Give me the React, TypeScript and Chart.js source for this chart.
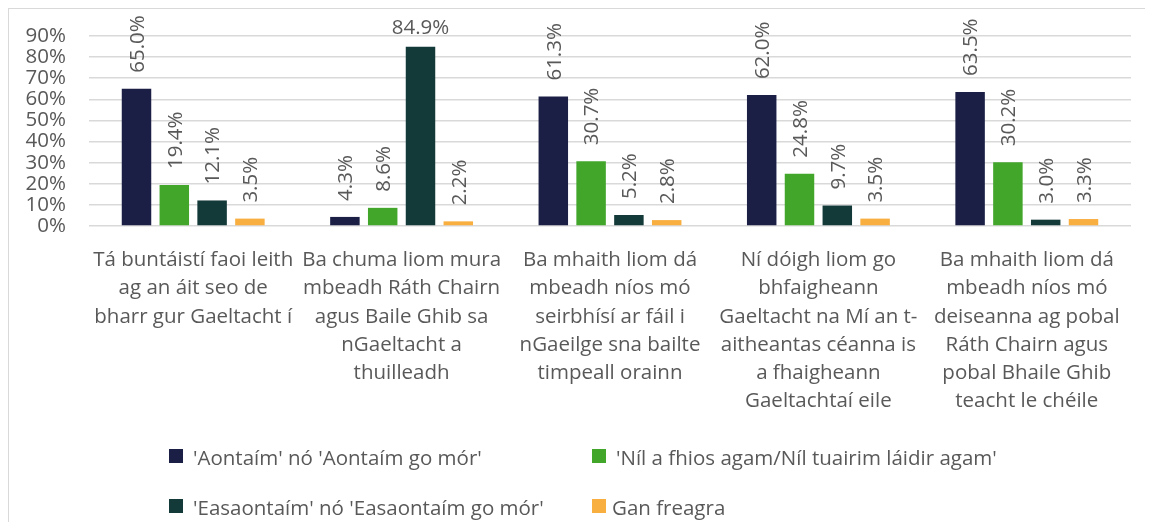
import React, { useEffect, useRef } from "react";
import { Chart, registerables } from "chart.js";

Chart.register(...registerables);

const CATEGORIES: string[][] = [
  ["Tá buntáistí faoi leith", "ag an áit seo de", "bharr gur Gaeltacht í"],
  ["Ba chuma liom mura", "mbeadh Ráth Chairn", "agus Baile Ghib sa", "nGaeltacht a", "thuilleadh"],
  ["Ba mhaith liom dá", "mbeadh níos mó", "seirbhísí ar fáil i", "nGaeilge sna bailte", "timpeall orainn"],
  ["Ní dóigh liom go", "bhfaigheann", "Gaeltacht na Mí an t-", "aitheantas céanna is", "a fhaigheann", "Gaeltachtaí eile"],
  ["Ba mhaith liom dá", "mbeadh níos mó", "deiseanna ag pobal", "Ráth Chairn agus", "pobal Bhaile Ghib", "teacht le chéile"],
];

const SERIES_LABELS = [
  "'Aontaím' nó 'Aontaím go mór'",
  "'Níl a fhios agam/Níl tuairim láidir agam'",
  "'Easaontaím' nó 'Easaontaím go mór'",
  "Gan freagra",
];

const AGREE = [65.0, 4.3, 61.3, 62.0, 63.5];
const DONT_KNOW = [19.4, 8.6, 30.7, 24.8, 30.2];
const DISAGREE = [12.1, 84.9, 5.2, 9.7, 3.0];
const NO_ANSWER = [3.5, 2.2, 2.8, 3.5, 3.3];

const Y_MIN = 0;
const Y_MAX = 90;
const Y_STEP = 10;

const COLORS = ["#1b1f46", "#42a62b", "#133a39", "#f9ae40"];
const TEXT = "#595959";
const FONT_FAMILY = "'Open Sans', sans-serif";
const FONT_SIZE = 20.5;

const dataLabelPlugin = {
  id: "dataLabels",
  afterDatasetsDraw(chart: any) {
    const ctx = chart.ctx;
    ctx.save();
    ctx.fillStyle = TEXT;
    ctx.font = `${FONT_SIZE}px ${FONT_FAMILY}`;
    chart.data.datasets.forEach((ds: any, di: number) => {
      const meta = chart.getDatasetMeta(di);
      meta.data.forEach((bar: any, i: number) => {
        const v = ds.data[i];
        const txt = v.toFixed(1) + "%";
        const w = ctx.measureText(txt).width;
        if (bar.y - 16 - w < 0) {
          ctx.textAlign = "center";
          ctx.textBaseline = "alphabetic";
          ctx.fillText(txt, bar.x, bar.y - 13);
        } else {
          ctx.save();
          ctx.translate(bar.x + 1.5, bar.y - 16);
          ctx.rotate(-Math.PI / 2);
          ctx.textAlign = "left";
          ctx.textBaseline = "middle";
          ctx.fillText(txt, 0, 0);
          ctx.restore();
        }
      });
    });
    ctx.restore();
  },
};

const LEGEND_POS = [
  { x: 160, y: 440 },
  { x: 583, y: 440 },
  { x: 160, y: 490 },
  { x: 583, y: 490 },
];

const legendPlugin = {
  id: "customLegend",
  afterDraw(chart: any) {
    const ctx = chart.ctx;
    ctx.save();
    ctx.font = `${FONT_SIZE}px ${FONT_FAMILY}`;
    ctx.textAlign = "left";
    ctx.textBaseline = "middle";
    chart.data.datasets.forEach((ds: any, i: number) => {
      const p = LEGEND_POS[i];
      ctx.fillStyle = ds.backgroundColor;
      ctx.fillRect(p.x, p.y, 14, 14);
      ctx.fillStyle = TEXT;
      const gap = ds.label.startsWith("'") ? 10 : 6;
      ctx.fillText(ds.label, p.x + 14 + gap, p.y + 10);
    });
    ctx.restore();
  },
};

export default function App() {
  const ref = useRef<HTMLCanvasElement | null>(null);
  useEffect(() => {
    if (!ref.current) return;
    const seriesValues = [AGREE, DONT_KNOW, DISAGREE, NO_ANSWER];
    const chart = new Chart(ref.current, {
      type: "bar",
      data: {
        labels: CATEGORIES,
        datasets: seriesValues.map((vals, i) => ({
          label: SERIES_LABELS[i],
          data: vals,
          backgroundColor: COLORS[i],
          borderWidth: 0,
          categoryPercentage: 0.7255,
          barPercentage: 0.78,
        })),
      },
      options: {
        responsive: false,
        animation: false,
        layout: { padding: { left: 0, right: 14, top: 27, bottom: 96 } },
        plugins: {
          legend: { display: false },
          tooltip: { enabled: false },
        },
        scales: {
          x: {
            grid: { display: false },
            border: { display: false },
            ticks: {
              color: TEXT,
              font: { family: FONT_FAMILY, size: FONT_SIZE, lineHeight: 28.3 / FONT_SIZE },
              padding: 12,
              maxRotation: 0,
              autoSkip: false,
            },
            afterFit: (s: any) => {
              s.height = 200;
            },
          },
          y: {
            min: Y_MIN,
            max: Y_MAX,
            grid: { color: "#d9d9d9", lineWidth: 1.5, drawTicks: false },
            border: { display: false },
            ticks: {
              stepSize: Y_STEP,
              autoSkip: false,
              color: TEXT,
              font: { family: FONT_FAMILY, size: FONT_SIZE, lineHeight: 1 },
              padding: 23,
              callback: (v: any) => v + "%",
            },
            afterFit: (s: any) => {
              s.width = 80;
              s.paddingTop = 0;
              s.paddingBottom = 0;
            },
          },
        },
      },
      plugins: [dataLabelPlugin, legendPlugin],
    });
    return () => chart.destroy();
  }, []);

  return (
    <div
      style={{
        borderLeft: "1px solid #d9d9d9",
        borderTop: "1px solid #d9d9d9",
        width: 1136,
        height: 513,
        background: "#fff",
      }}
    >
      <canvas ref={ref} width={1136} height={513} style={{ display: "block" }} />
    </div>
  );
}
